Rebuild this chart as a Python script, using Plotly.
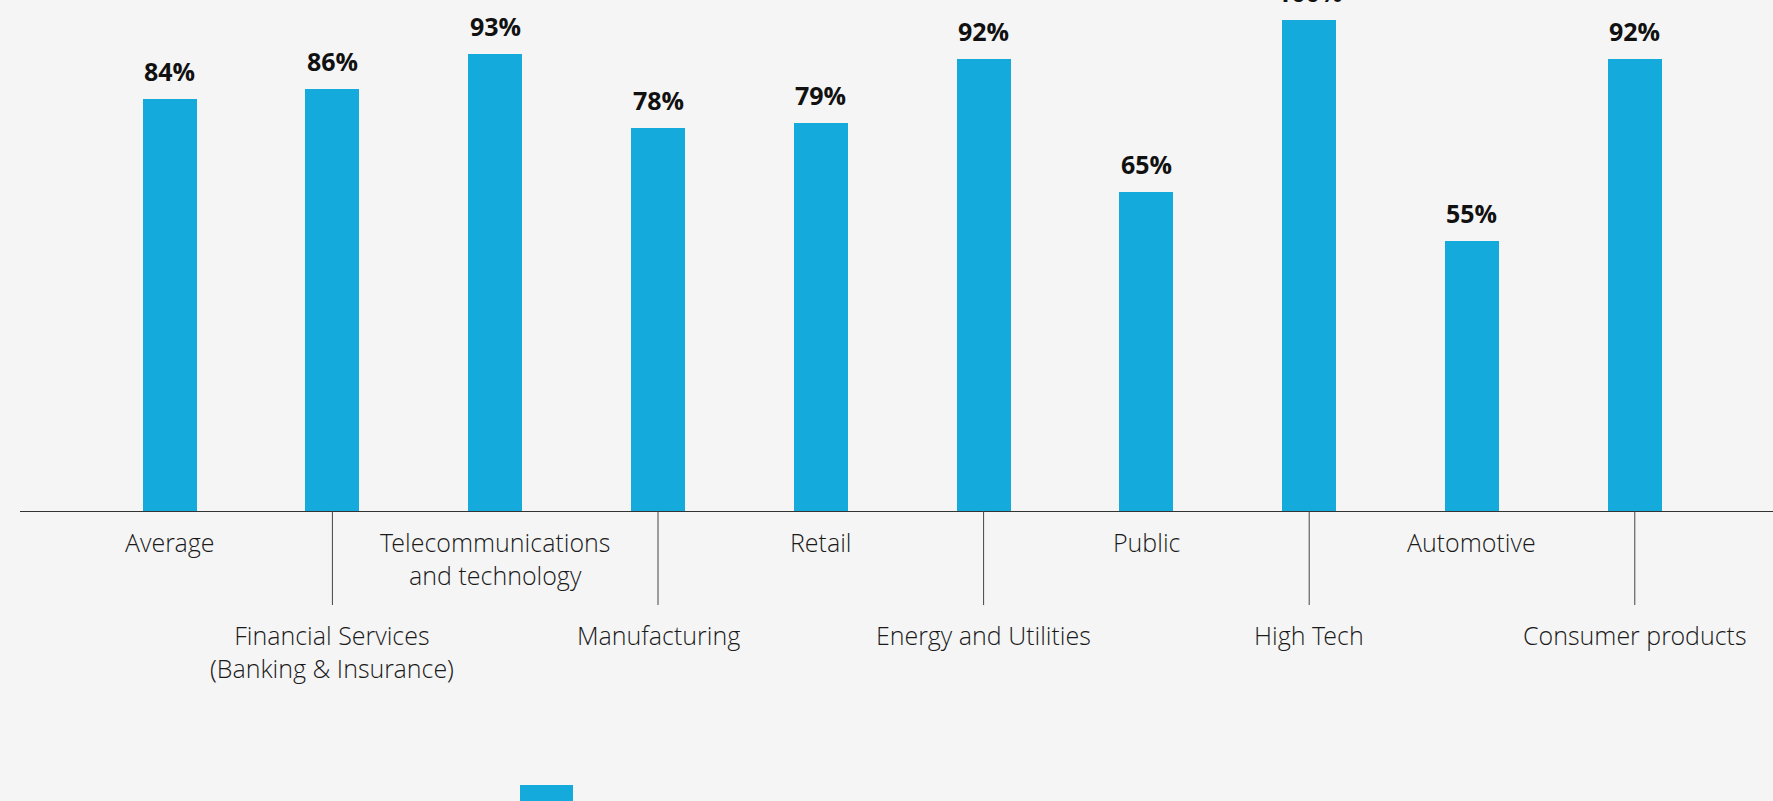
import plotly.graph_objects as go

categories = ["Average", "Financial Services<br>(Banking & Insurance)", "Telecommunications<br>and technology",
              "Manufacturing", "Retail", "Energy and Utilities", "Public", "High Tech",
              "Automotive", "Consumer products"]
values = [84, 86, 93, 78, 79, 92, 65, 100, 55, 92]
value_labels = ["84%", "86%", "93%", "78%", "79%", "92%", "65%", "100%", "55%", "92%"]

BAR = "#14aadc"
BG = "#f5f5f5"
W, H = 1773, 801
ML, MR, MT, MB = 20, 0, 20, 290
plot_h = H - MT - MB

xs = list(range(len(categories)))

fig = go.Figure()
fig.add_trace(go.Bar(x=xs, y=values, width=0.332, marker=dict(color=BAR, line=dict(width=0)),
                     hoverinfo="skip", showlegend=False))

annotations = []
for i, (v, t) in enumerate(zip(values, value_labels)):
    annotations.append(dict(x=i, y=v, xref="x", yref="y", text="<b>" + t + "</b>", showarrow=False,
                            yanchor="middle", yshift=28,
                            font=dict(family="Open Sans, DejaVu Sans", size=25, color="#111111")))

label_font = dict(family="Open Sans Light, Open Sans", size=25, color="#1a1a1a", weight=300)
shapes = []
for i, c in enumerate(categories):
    if i % 2 == 0:
        annotations.append(dict(x=i, y=0, xref="x", yref="y", text=c, showarrow=False,
                                yanchor="top", yshift=-12, font=label_font, align="center"))
    else:
        annotations.append(dict(x=i, y=0, xref="x", yref="y", text=c, showarrow=False,
                                yanchor="top", yshift=-105, font=label_font, align="center"))
        shapes.append(dict(type="line", xref="x", yref="paper", x0=i, x1=i, y0=0, y1=-94 / plot_h,
                           line=dict(color="#444444", width=1)))

# legend swatch (cut off at bottom)
shapes.append(dict(type="rect", xref="paper", yref="paper",
                   x0=(520 - ML) / (W - ML - MR), x1=(573 - ML) / (W - ML - MR),
                   y0=(511 - 785) / plot_h, y1=(511 - 830) / plot_h,
                   fillcolor=BAR, line=dict(width=0), layer="above"))

fig.update_layout(
    width=W, height=H,
    margin=dict(l=ML, r=MR, t=MT, b=MB),
    paper_bgcolor=BG, plot_bgcolor=BG,
    xaxis=dict(range=[-0.919, 9.849], showticklabels=False, ticks="", showgrid=False, zeroline=False,
               showline=True, linecolor="#333333", linewidth=1, fixedrange=True),
    yaxis=dict(range=[0, 100], visible=False, showgrid=False, zeroline=False, fixedrange=True),
    annotations=annotations,
    shapes=shapes,
    bargap=0,
)

fig.write_html("out.html", config={"displayModeBar": False},
               post_script="document.body.style.margin='0';document.body.style.background='#f5f5f5';")
